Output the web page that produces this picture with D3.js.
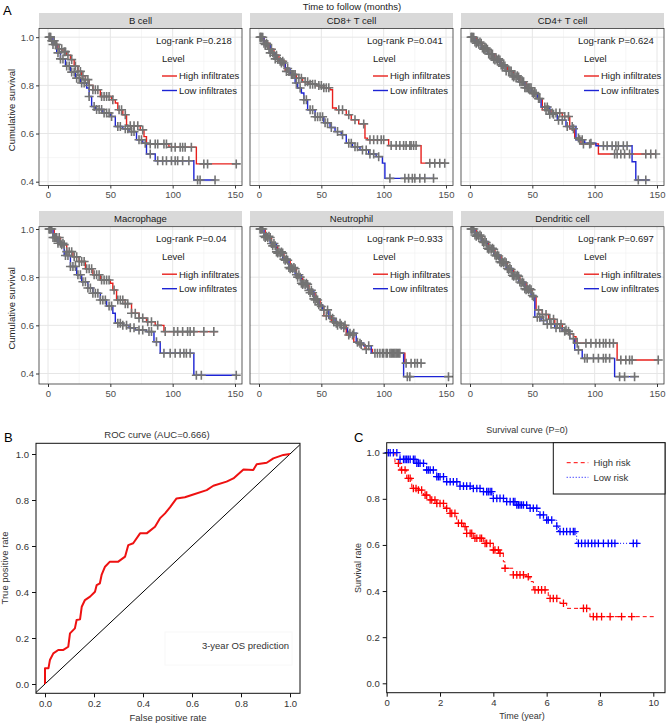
<!DOCTYPE html>
<meta charset="utf-8">
<style>
body { margin: 0; background: #fff; }
text { font-family: "Liberation Sans", Arial, sans-serif; }
</style>
<body>
<script src="https://cdn.jsdelivr.net/npm/d3@7"></script>
<script>

// ---------- panel A : immune infiltration KM curves ----------
var cellTypes = ["B cell", "CD8+ T cell", "CD4+ T cell", "Macrophage", "Neutrophil", "Dendritic cell"];
var logrankP = ["0.218", "0.041", "0.624", "0.04", "0.933", "0.697"];

var bHighT = [0, 3, 6, 8, 12, 15, 18, 21, 24, 27, 30, 33, 36, 42, 51, 54, 56, 60, 63, 74, 77, 79, 97, 119, 151];
var bHighS = [1, 0.985, 0.97, 0.952, 0.94, 0.925, 0.907, 0.88, 0.858, 0.84, 0.824, 0.80, 0.782, 0.754, 0.74, 0.727, 0.699, 0.678, 0.632, 0.615, 0.587, 0.557, 0.543, 0.474, 0.474];
var bHighC = [1, 2, 3, 5, 7, 9, 11, 13, 14, 16, 19, 22, 24, 26, 28, 30, 32, 33, 36, 38, 40, 43, 45, 47, 49, 52, 57, 59, 62, 66, 69, 72, 76, 82, 86, 88, 93, 95, 99, 102, 106, 108, 110, 115, 125, 128, 151];
var bLowT = [0, 4, 7, 10, 14, 18, 22, 26, 31, 33, 35, 38, 44, 50, 54, 60, 65, 71, 76, 79, 86, 117, 134];
var bLowS = [1, 0.97, 0.935, 0.91, 0.88, 0.855, 0.83, 0.81, 0.789, 0.754, 0.7125, 0.70, 0.685, 0.671, 0.629, 0.62, 0.608, 0.574, 0.56, 0.515, 0.487, 0.407, 0.407];
var bLowC = [1, 2, 4, 6, 8, 10, 12, 15, 17, 19, 21, 23, 25, 27, 29, 33, 37, 39, 41, 43, 45, 47, 49, 51, 56, 58, 62, 64, 67, 69, 73, 75, 78, 82, 88, 92, 95, 99, 102, 104, 108, 113, 120, 122, 134];

var cd8HighT = [0, 4, 8, 12, 16, 21, 25, 30, 35, 40, 46, 52, 57, 59, 62, 70, 74, 80, 85, 87, 104, 130, 150];
var cd8HighS = [1, 0.975, 0.95, 0.925, 0.9, 0.858, 0.845, 0.83, 0.815, 0.805, 0.799, 0.79, 0.782, 0.706, 0.699, 0.678, 0.657, 0.64, 0.581, 0.574, 0.55, 0.477, 0.477];
var cd8HighC = [1, 2, 4, 6, 8, 10, 12, 14, 17, 19, 22, 24, 27, 29, 32, 34, 37, 39, 41, 43, 45, 48, 50, 52, 54, 56, 64, 67, 72, 77, 84, 89, 92, 95, 98, 100, 106, 110, 113, 116, 118, 121, 122, 124, 126, 137, 141, 145, 149];
var cd8LowT = [0, 4, 9, 13, 17, 21, 25, 29, 31, 34, 36, 39, 45, 52, 57, 61, 66, 70, 75, 81, 88, 94, 99, 101, 140];
var cd8LowS = [1, 0.97, 0.935, 0.91, 0.893, 0.87, 0.845, 0.81, 0.789, 0.768, 0.74, 0.699, 0.67, 0.645, 0.625, 0.608, 0.595, 0.56, 0.545, 0.532, 0.515, 0.504, 0.477, 0.414, 0.414];
var cd8LowC = [1, 2, 3, 5, 7, 9, 11, 13, 15, 18, 20, 23, 26, 28, 30, 33, 36, 38, 41, 43, 45, 47, 49, 51, 53, 55, 58, 63, 67, 72, 74, 77, 79, 83, 86, 89, 92, 96, 105, 117, 120, 123, 125, 129, 133, 140];

var cd4HighT = [0, 5, 10, 15, 20, 25, 30, 35, 40, 45, 50, 55, 58, 65, 74, 80, 84, 89, 103, 149];
var cd4HighS = [1, 0.975, 0.95, 0.93, 0.905, 0.88, 0.86, 0.835, 0.815, 0.79, 0.765, 0.745, 0.699, 0.685, 0.671, 0.62, 0.581, 0.557, 0.515, 0.515];
var cd4HighC = [1, 2, 3, 5, 7, 9, 11, 12, 14, 16, 18, 20, 22, 24, 26, 28, 31, 33, 35, 37, 39, 41, 43, 45, 47, 49, 51, 53, 55, 61, 63, 66, 69, 72, 76, 79, 83, 87, 91, 96, 116, 118, 121, 124, 128, 141, 145, 149];
var cd4LowT = [0, 4, 9, 14, 19, 24, 29, 34, 39, 44, 49, 54, 57, 64, 70, 77, 85, 92, 101, 130, 133, 144];
var cd4LowS = [1, 0.98, 0.955, 0.93, 0.91, 0.885, 0.86, 0.84, 0.815, 0.79, 0.77, 0.745, 0.71, 0.68, 0.655, 0.629, 0.574, 0.56, 0.549, 0.483, 0.407, 0.407];
var cd4LowC = [1, 2, 4, 6, 8, 10, 12, 13, 15, 17, 19, 21, 23, 25, 27, 29, 32, 34, 36, 38, 40, 42, 44, 46, 48, 50, 52, 56, 60, 62, 64, 67, 71, 74, 78, 82, 88, 90, 97, 107, 110, 114, 117, 119, 123, 126, 135, 141];

var macHighT = [0, 5, 10, 15, 20, 25, 30, 36, 42, 50, 52, 55, 62, 67, 73, 79, 86, 93, 136];
var macHighS = [1, 0.965, 0.935, 0.906, 0.885, 0.865, 0.835, 0.81, 0.788, 0.775, 0.747, 0.705, 0.69, 0.65, 0.63, 0.615, 0.6, 0.574, 0.574];
var macHighC = [1, 2, 3, 5, 7, 9, 11, 13, 15, 17, 19, 21, 23, 25, 27, 29, 31, 33, 35, 37, 39, 41, 43, 45, 47, 49, 53, 56, 58, 60, 62, 64, 67, 70, 73, 76, 80, 83, 88, 94, 101, 104, 108, 112, 114, 117, 125, 133];
var macLowT = [0, 4, 8, 13, 18, 23, 27, 32, 36, 42, 47, 52, 54, 60, 65, 70, 79, 85, 90, 117, 151];
var macLowS = [1, 0.965, 0.941, 0.89, 0.844, 0.81, 0.781, 0.755, 0.733, 0.705, 0.68, 0.65, 0.609, 0.6, 0.59, 0.581, 0.574, 0.532, 0.484, 0.393, 0.393];
var macLowC = [1, 2, 4, 6, 8, 10, 12, 14, 16, 18, 20, 22, 24, 26, 28, 30, 32, 34, 36, 38, 40, 42, 44, 46, 49, 51, 56, 58, 60, 63, 66, 69, 73, 76, 81, 83, 87, 93, 98, 102, 106, 109, 111, 114, 119, 123, 151];

var neuHighT = [0, 5, 10, 15, 20, 25, 30, 35, 40, 45, 49, 52, 58, 63, 70, 76, 80, 85, 91, 117, 130];
var neuHighS = [1, 0.965, 0.93, 0.9, 0.87, 0.835, 0.8, 0.77, 0.735, 0.705, 0.678, 0.64, 0.615, 0.6, 0.56, 0.53, 0.52, 0.5, 0.484, 0.443, 0.443];
var neuHighC = [1, 2, 3, 5, 7, 9, 11, 13, 15, 17, 19, 21, 23, 25, 27, 29, 31, 33, 35, 37, 39, 41, 43, 45, 47, 50, 54, 57, 60, 63, 66, 69, 72, 75, 79, 82, 86, 93, 97, 100, 103, 106, 108, 110, 112, 118, 122, 125, 127, 130];
var neuLowT = [0, 4, 9, 14, 19, 24, 29, 34, 39, 44, 48, 51, 56, 61, 66, 71, 78, 84, 90, 116, 152];
var neuLowS = [1, 0.97, 0.94, 0.905, 0.875, 0.84, 0.81, 0.775, 0.745, 0.71, 0.685, 0.664, 0.629, 0.609, 0.59, 0.567, 0.526, 0.515, 0.484, 0.387, 0.387];
var neuLowC = [1, 2, 4, 6, 8, 10, 12, 14, 16, 18, 20, 22, 24, 26, 28, 30, 32, 34, 36, 38, 40, 42, 44, 46, 48, 52, 55, 59, 62, 65, 68, 73, 76, 81, 88, 95, 99, 102, 105, 107, 109, 111, 113, 119, 121, 152];

var dcHighT = [0, 5, 10, 15, 20, 25, 30, 35, 40, 45, 50, 53, 58, 63, 68, 74, 79, 83, 85, 118, 151];
var dcHighS = [1, 0.97, 0.944, 0.916, 0.888, 0.86, 0.832, 0.804, 0.776, 0.748, 0.719, 0.664, 0.645, 0.625, 0.605, 0.581, 0.565, 0.553, 0.526, 0.456, 0.456];
var dcHighC = [1, 2, 3, 5, 7, 9, 11, 13, 15, 17, 19, 21, 23, 25, 27, 29, 31, 33, 35, 37, 39, 41, 43, 45, 47, 49, 51, 55, 58, 61, 64, 67, 70, 73, 77, 80, 86, 93, 97, 101, 104, 107, 109, 112, 115, 121, 125, 128, 130, 151];
var dcLowT = [0, 4, 9, 14, 19, 24, 29, 34, 39, 44, 49, 52, 57, 62, 68, 74, 80, 84, 90, 116, 133];
var dcLowS = [1, 0.975, 0.948, 0.92, 0.892, 0.864, 0.836, 0.808, 0.78, 0.752, 0.724, 0.634, 0.62, 0.605, 0.59, 0.575, 0.545, 0.498, 0.463, 0.387, 0.387];
var dcLowC = [1, 2, 4, 6, 8, 10, 12, 14, 16, 18, 20, 22, 24, 26, 28, 30, 32, 34, 36, 38, 40, 42, 44, 46, 48, 50, 54, 56, 59, 62, 65, 69, 72, 76, 79, 83, 87, 92, 94, 99, 103, 107, 109, 112, 120, 124, 132];

var monthTicks = [0, 50, 100, 150];
var survTicks = [0.4, 0.6, 0.8, 1.0];

// ---------- panel B : ROC ----------
var rocFpr = [0, 0, 0.014, 0.02, 0.034, 0.054, 0.075, 0.095, 0.102, 0.122, 0.129, 0.143, 0.15, 0.163, 0.184, 0.204, 0.211, 0.224, 0.231, 0.245, 0.265, 0.299, 0.327, 0.34, 0.36, 0.388, 0.415, 0.449, 0.469, 0.49, 0.51, 0.537, 0.571, 0.599, 0.66, 0.687, 0.741, 0.769, 0.81, 0.85, 0.864, 0.905, 0.932, 0.973, 1.0];
var rocTpr = [0, 0.068, 0.068, 0.104, 0.133, 0.148, 0.148, 0.162, 0.22, 0.242, 0.278, 0.281, 0.336, 0.365, 0.38, 0.401, 0.43, 0.438, 0.474, 0.51, 0.532, 0.532, 0.554, 0.604, 0.612, 0.655, 0.655, 0.684, 0.72, 0.742, 0.768, 0.807, 0.812, 0.822, 0.843, 0.862, 0.88, 0.894, 0.933, 0.93, 0.955, 0.962, 0.981, 0.996, 1.0];
var rateTicks = [0, 0.2, 0.4, 0.6, 0.8, 1.0];

// ---------- panel C : risk score survival ----------
var highRiskT = [0, 0.31, 0.5, 0.75, 0.94, 1.19, 1.375, 1.625, 1.875, 2.19, 2.375, 2.625, 2.875, 3.0, 3.25, 3.625, 4.0, 4.25, 4.375, 4.44, 4.75, 5.25, 5.375, 5.5, 6.06, 6.5, 6.75, 7.625, 10.1];
var highRiskS = [1, 0.954, 0.925, 0.889, 0.845, 0.838, 0.816, 0.795, 0.78, 0.759, 0.737, 0.694, 0.679, 0.65, 0.629, 0.607, 0.578, 0.564, 0.527, 0.499, 0.47, 0.462, 0.441, 0.405, 0.368, 0.347, 0.325, 0.289, 0.289];
var highRiskC = [0.44, 0.56, 0.69, 0.81, 0.88, 1.0, 1.1, 1.19, 1.31, 1.44, 1.5, 1.63, 1.69, 1.81, 1.88, 2.0, 2.13, 2.25, 2.38, 2.44, 2.56, 2.69, 2.81, 2.94, 3.0, 3.13, 3.19, 3.31, 3.38, 3.5, 3.56, 3.69, 3.75, 3.88, 4.0, 4.06, 4.19, 4.25, 4.44, 4.75, 4.88, 5.0, 5.13, 5.31, 5.56, 5.69, 5.81, 5.94, 6.13, 6.25, 6.38, 6.63, 7.38, 7.5, 7.75, 7.88, 8.06, 8.38, 8.81, 9.19];
var lowRiskT = [0, 0.5, 1.125, 1.5, 1.875, 2.25, 2.75, 3.25, 3.625, 4.0, 4.5, 4.875, 5.375, 5.69, 6.0, 6.375, 6.44, 7.125, 9.5];
var lowRiskS = [1, 0.971, 0.954, 0.925, 0.896, 0.874, 0.855, 0.845, 0.831, 0.802, 0.788, 0.773, 0.759, 0.73, 0.708, 0.682, 0.658, 0.607, 0.607];
var lowRiskC = [0.06, 0.13, 0.25, 0.38, 0.5, 0.63, 0.69, 0.75, 0.81, 0.88, 1.0, 1.06, 1.13, 1.19, 1.25, 1.38, 1.5, 1.56, 1.63, 1.75, 1.88, 1.94, 2.0, 2.13, 2.25, 2.38, 2.5, 2.63, 2.75, 2.88, 3.0, 3.13, 3.25, 3.38, 3.5, 3.63, 3.75, 3.81, 3.88, 3.94, 4.0, 4.13, 4.25, 4.38, 4.5, 4.63, 4.75, 4.81, 4.88, 4.94, 5.0, 5.06, 5.13, 5.25, 5.38, 5.5, 5.63, 5.75, 5.88, 6.0, 6.06, 6.19, 6.38, 6.5, 6.63, 6.75, 6.88, 7.0, 7.06, 7.19, 7.31, 7.44, 7.56, 7.69, 7.81, 7.94, 8.13, 8.31, 8.44, 8.56, 9.25, 9.38];
var yearTicks = [0, 2, 4, 6, 8, 10];

// ---------------------------------------------------------------
var facets = [
  {hi: [bHighT, bHighS, bHighC], lo: [bLowT, bLowS, bLowC]},
  {hi: [cd8HighT, cd8HighS, cd8HighC], lo: [cd8LowT, cd8LowS, cd8LowC]},
  {hi: [cd4HighT, cd4HighS, cd4HighC], lo: [cd4LowT, cd4LowS, cd4LowC]},
  {hi: [macHighT, macHighS, macHighC], lo: [macLowT, macLowS, macLowC]},
  {hi: [neuHighT, neuHighS, neuHighC], lo: [neuLowT, neuLowS, neuLowC]},
  {hi: [dcHighT, dcHighS, dcHighC], lo: [dcLowT, dcLowS, dcLowC]}
];

var red = "#e8201c", blue = "#1d24d4", crossCol = "#737373", txt = "#4d4d4d";

var svg = d3.select("body").append("svg")
    .attr("width", 669)
    .attr("height", 725);

// step value of a KM curve at time t
function survAt(T, S, t) {
  var i = d3.bisectRight(T, t) - 1;
  return S[Math.max(0, i)];
}
function plus(r) { return "M" + (-r) + ",0H" + r + "M0," + (-r) + "V" + r; }

var colX = [39, 250, 461], panelW = 203;
var rows = [
  {strip: 13, top: 28.5, bottom: 185.5, y1: 37.2, y04: 181.7},
  {strip: 211, top: 226.7, bottom: 384, y1: 229, y04: 373.5}
];

svg.append("text").attr("x", 3).attr("y", 15).attr("font-size", 13).text("A");
svg.append("text").attr("x", 352).attr("y", 9.5).attr("text-anchor", "middle")
    .attr("font-size", 9.5).attr("fill", "#222").text("Time to follow (months)");

facets.forEach(function(f, i) {
  var col = i % 3, row = rows[Math.floor(i / 3)], x0 = colX[col];
  var x = d3.scaleLinear().domain([0, 150]).range([x0 + 9, x0 + 196]);
  var y = d3.scaleLinear().domain([0.4, 1]).range([row.y04, row.y1]);
  var g = svg.append("g");

  g.append("rect").attr("x", x0).attr("y", row.strip).attr("width", panelW)
      .attr("height", row.top - row.strip).attr("fill", "#d9d9d9");
  g.append("text").attr("x", x0 + panelW / 2).attr("y", (row.strip + row.top) / 2 + 3.5)
      .attr("text-anchor", "middle").attr("font-size", 9.5).attr("fill", "#1a1a1a").text(cellTypes[i]);

  var clipId = "clip" + i;
  g.append("clipPath").attr("id", clipId).append("rect")
      .attr("x", x0).attr("y", row.top).attr("width", panelW).attr("height", row.bottom - row.top);

  // grid
  [25, 75, 125].forEach(function(v) {
    g.append("line").attr("x1", x(v)).attr("x2", x(v)).attr("y1", row.top).attr("y2", row.bottom)
        .attr("stroke", "#f0f0f0").attr("stroke-width", 0.6);
  });
  [0.5, 0.7, 0.9].forEach(function(v) {
    g.append("line").attr("y1", y(v)).attr("y2", y(v)).attr("x1", x0).attr("x2", x0 + panelW)
        .attr("stroke", "#f0f0f0").attr("stroke-width", 0.6);
  });
  monthTicks.forEach(function(v) {
    g.append("line").attr("x1", x(v)).attr("x2", x(v)).attr("y1", row.top).attr("y2", row.bottom)
        .attr("stroke", "#e6e6e6").attr("stroke-width", 1);
  });
  survTicks.forEach(function(v) {
    g.append("line").attr("y1", y(v)).attr("y2", y(v)).attr("x1", x0).attr("x2", x0 + panelW)
        .attr("stroke", "#e6e6e6").attr("stroke-width", 1);
  });

  var plot = g.append("g").attr("clip-path", "url(#" + clipId + ")");
  var line = d3.line().curve(d3.curveStepAfter)
      .x(function(d) { return x(d[0]); }).y(function(d) { return y(d[1]); });

  [[f.hi, red], [f.lo, blue]].forEach(function(c) {
    var pts = c[0][0].map(function(t, k) { return [t, c[0][1][k]]; });
    plot.append("path").attr("d", line(pts)).attr("fill", "none")
        .attr("stroke", c[1]).attr("stroke-width", 1.4);
  });
  [f.hi, f.lo].forEach(function(c) {
    plot.selectAll(null).data(c[2]).enter().append("path")
        .attr("d", plus(4.5))
        .attr("transform", function(t) { return "translate(" + x(t) + "," + y(survAt(c[0], c[1], t)) + ")"; })
        .attr("stroke", crossCol).attr("stroke-width", 1.6).attr("fill", "none");
  });

  g.append("rect").attr("x", x0).attr("y", row.top).attr("width", panelW)
      .attr("height", row.bottom - row.top).attr("fill", "none").attr("stroke", "#333").attr("stroke-width", 0.8);

  // x axis
  var xa = g.append("g").attr("transform", "translate(0," + row.bottom + ")")
      .call(d3.axisBottom(x).tickValues(monthTicks).tickSize(3).tickPadding(3));
  xa.select(".domain").remove();
  xa.selectAll("line").attr("stroke", "#333");
  xa.selectAll("text").attr("font-size", 9.5).attr("fill", txt).attr("font-family", null);

  if (col === 0) {
    var ya = g.append("g").attr("transform", "translate(" + x0 + ",0)")
        .call(d3.axisLeft(y).tickValues(survTicks).tickFormat(d3.format(".1f")).tickSize(3).tickPadding(2));
    ya.select(".domain").remove();
    ya.selectAll("line").attr("stroke", "#333");
    ya.selectAll("text").attr("font-size", 9.5).attr("fill", txt).attr("font-family", null);
    g.append("text").attr("transform", "translate(15," + ((row.top + row.bottom) / 2 + 3) + ") rotate(-90)")
        .attr("text-anchor", "middle").attr("font-size", 9.5).attr("fill", "#222").text("Cumulative survival");
  }

  // in-panel legend
  var lx = x0 + 123, ty = row.top;
  g.append("text").attr("x", x0 + 117).attr("y", ty + 15).attr("font-size", 9.5).attr("fill", "#222")
      .text("Log-rank P=" + logrankP[i]);
  g.append("text").attr("x", lx).attr("y", ty + 33.5).attr("font-size", 9.5).attr("fill", "#222").text("Level");
  [["High infiltrates", red, 47.5], ["Low infiltrates", blue, 62]].forEach(function(l) {
    g.append("line").attr("x1", lx).attr("x2", lx + 15).attr("y1", ty + l[2]).attr("y2", ty + l[2])
        .attr("stroke", l[1]).attr("stroke-width", 1.4);
    g.append("text").attr("x", lx + 17).attr("y", ty + l[2] + 3.4).attr("font-size", 9.5)
        .attr("fill", "#222").text(l[0]);
  });
});

// ---------- panel B ----------
(function() {
  var box = {l: 36, r: 300, t: 443.3, b: 693.3};
  var x = d3.scaleLinear().domain([0, 1]).range([45, 290]);
  var y = d3.scaleLinear().domain([0, 1]).range([684, 454]);
  var g = svg.append("g");

  g.append("text").attr("x", 4).attr("y", 442).attr("font-size", 13).text("B");
  g.append("text").attr("x", 157).attr("y", 437.5).attr("text-anchor", "middle")
      .attr("font-size", 9.5).attr("fill", "#333").text("ROC curve (AUC=0.666)");

  g.append("rect").attr("x", 165).attr("y", 632).attr("width", 127).attr("height", 33)
      .attr("fill", "none").attr("stroke", "#f8f8f8");
  g.append("text").attr("x", 289).attr("y", 648.5).attr("text-anchor", "end")
      .attr("font-size", 9.5).attr("fill", "#333").text("3-year OS prediction");

  g.append("line").attr("x1", x(-0.037)).attr("y1", y(-0.037)).attr("x2", x(1.04)).attr("y2", y(1.04))
      .attr("stroke", "#000").attr("stroke-width", 1);

  var pts = rocFpr.map(function(v, k) { return [v, rocTpr[k]]; });
  g.append("path").attr("d", d3.line().x(function(d) { return x(d[0]); }).y(function(d) { return y(d[1]); })(pts))
      .attr("fill", "none").attr("stroke", "#ee1111").attr("stroke-width", 2).attr("stroke-linejoin", "round");

  g.append("rect").attr("x", box.l).attr("y", box.t).attr("width", box.r - box.l).attr("height", box.b - box.t)
      .attr("fill", "none").attr("stroke", "#111").attr("stroke-width", 1);

  var xa = g.append("g").attr("transform", "translate(0," + box.b + ")")
      .call(d3.axisBottom(x).tickValues(rateTicks).tickFormat(d3.format(".1f")).tickSize(4).tickPadding(3));
  var ya = g.append("g").attr("transform", "translate(" + box.l + ",0)")
      .call(d3.axisLeft(y).tickValues(rateTicks).tickFormat(d3.format(".1f")).tickSize(4).tickPadding(3));
  [xa, ya].forEach(function(a) {
    a.select(".domain").remove();
    a.selectAll("line").attr("stroke", "#111");
    a.selectAll("text").attr("font-size", 9.5).attr("fill", "#333").attr("font-family", null);
  });

  g.append("text").attr("x", 168).attr("y", 721).attr("text-anchor", "middle")
      .attr("font-size", 9.5).attr("fill", "#333").text("False positive rate");
  g.append("text").attr("transform", "translate(8,568) rotate(-90)").attr("text-anchor", "middle")
      .attr("font-size", 9.5).attr("fill", "#333").text("True positive rate");
})();

// ---------- panel C ----------
(function() {
  var box = {l: 386.7, r: 665, t: 442.7, b: 692.7};
  var x = d3.scaleLinear().domain([0, 10]).range([386.7, 653.3]);
  var y = d3.scaleLinear().domain([0, 1]).range([683.3, 452.7]);
  var g = svg.append("g");

  g.append("text").attr("x", 354).attr("y", 442).attr("font-size", 13).text("C");
  g.append("text").attr("x", 527).attr("y", 433).attr("text-anchor", "middle")
      .attr("font-size", 9).attr("fill", "#333").text("Survival curve (P=0)");

  var line = d3.line().curve(d3.curveStepAfter)
      .x(function(d) { return x(d[0]); }).y(function(d) { return y(d[1]); });
  var curves = [
    {T: highRiskT, S: highRiskS, C: highRiskC, col: "#ff0000", dash: "4,3"},
    {T: lowRiskT, S: lowRiskS, C: lowRiskC, col: "#0000ff", dash: "1,2"}
  ];
  curves.forEach(function(c) {
    var pts = c.T.map(function(t, k) { return [t, c.S[k]]; });
    g.append("path").attr("d", line(pts)).attr("fill", "none").attr("stroke", c.col)
        .attr("stroke-width", 1).attr("stroke-dasharray", c.dash);
    g.selectAll(null).data(c.C).enter().append("path")
        .attr("d", plus(3.8))
        .attr("transform", function(t) { return "translate(" + x(t) + "," + y(survAt(c.T, c.S, t)) + ")"; })
        .attr("stroke", c.col).attr("stroke-width", 1.3).attr("fill", "none");
  });

  g.append("rect").attr("x", box.l).attr("y", box.t).attr("width", box.r - box.l).attr("height", box.b - box.t)
      .attr("fill", "none").attr("stroke", "#111").attr("stroke-width", 1);

  // legend
  g.append("rect").attr("x", 553.3).attr("y", box.t).attr("width", box.r - 553.3).attr("height", 51.3)
      .attr("fill", "#fff").attr("stroke", "#111").attr("stroke-width", 1);
  [["High risk", "#ff0000", "4,3", 462.7], ["Low risk", "#0000ff", "1,2", 477.3]].forEach(function(l) {
    g.append("line").attr("x1", 566.7).attr("x2", 588.3).attr("y1", l[3]).attr("y2", l[3])
        .attr("stroke", l[1]).attr("stroke-dasharray", l[2]);
    g.append("text").attr("x", 593.5).attr("y", l[3] + 3.3).attr("font-size", 9.5).attr("fill", "#333").text(l[0]);
  });

  var xa = g.append("g").attr("transform", "translate(0," + box.b + ")")
      .call(d3.axisBottom(x).tickValues(yearTicks).tickSize(4).tickPadding(3));
  var ya = g.append("g").attr("transform", "translate(" + box.l + ",0)")
      .call(d3.axisLeft(y).tickValues(rateTicks).tickFormat(d3.format(".1f")).tickSize(4).tickPadding(3));
  [xa, ya].forEach(function(a) {
    a.select(".domain").remove();
    a.selectAll("line").attr("stroke", "#111");
    a.selectAll("text").attr("font-size", 9.5).attr("fill", "#333").attr("font-family", null);
  });

  g.append("text").attr("x", 522).attr("y", 719).attr("text-anchor", "middle")
      .attr("font-size", 9).attr("fill", "#333").text("Time (year)");
  g.append("text").attr("transform", "translate(361,568) rotate(-90)").attr("text-anchor", "middle")
      .attr("font-size", 9).attr("fill", "#333").text("Survival rate");
})();
</script>
